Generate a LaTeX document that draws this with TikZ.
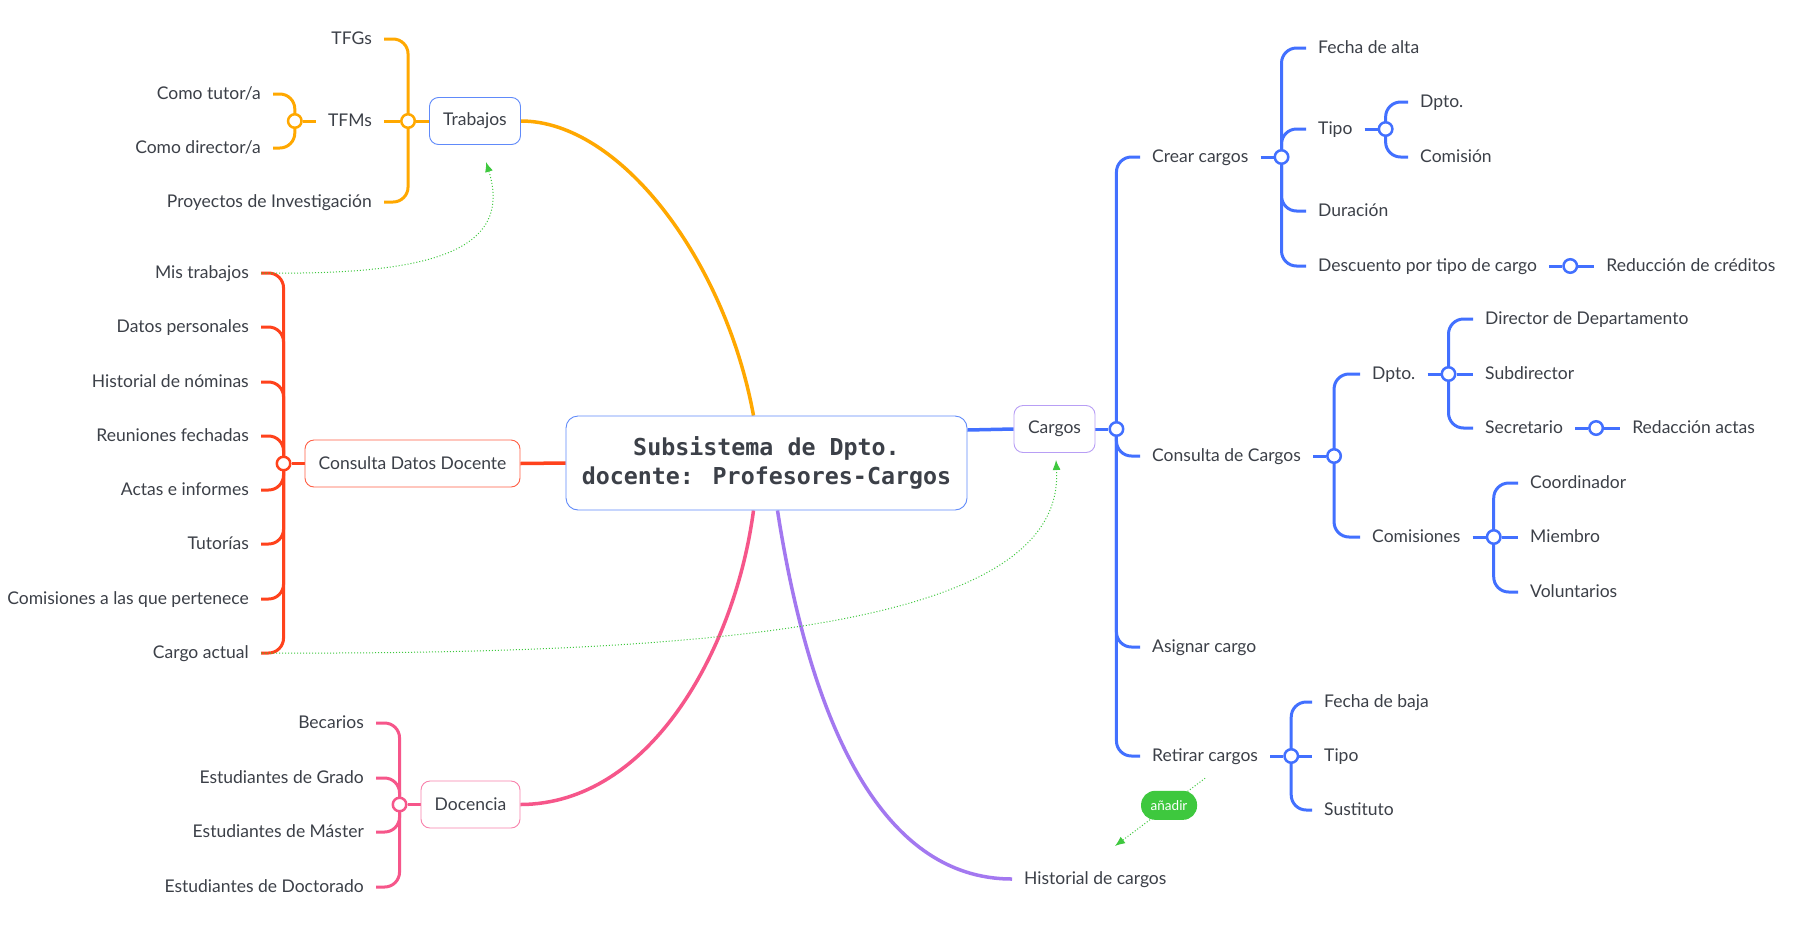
\documentclass[tikz,border=0pt]{standalone}
\usepackage{fontspec}
\setmainfont{Lato}
\newfontfamily\titrefont{DejaVu Sans Mono}
\usetikzlibrary{positioning,arrows.meta,backgrounds}

\definecolor{orangebr}{RGB}{255,168,0}
\definecolor{rougebr}{RGB}{255,66,28}
\definecolor{rosebr}{RGB}{246,86,138}
\definecolor{violetbr}{RGB}{163,120,240}
\definecolor{bleubr}{RGB}{66,112,255}
\definecolor{vertlien}{RGB}{62,200,62}
\definecolor{texte}{RGB}{60,64,72}
\definecolor{bordbleu}{RGB}{96,138,250}
\definecolor{bordrouge}{RGB}{255,96,70}
\definecolor{bordrose}{RGB}{248,130,172}
\definecolor{bordviolet}{RGB}{184,158,245}

\begin{document}
\begin{tikzpicture}[x=1pt, y=-1pt,
    every node/.style={text=texte, font=\fontsize{17.5}{20}\selectfont},
    feuille/.style={inner xsep=12pt, inner ysep=2pt, text height=14pt, text depth=4pt},
    boite/.style={draw=#1, line width=0.9pt, rounded corners=9pt, fill=white,
                  minimum height=47pt, inner xsep=13pt},
    moyeu/.style={circle, draw=#1, line width=2.5pt, fill=white,
                  minimum size=13.5pt, inner sep=0pt},
    branche/.style={draw=#1, line width=3pt, rounded corners=15pt},
    tronc/.style={draw=#1, line width=3.5pt},
    lien/.style={draw=vertlien, line width=1pt, dotted, -{Latex[length=10pt,width=8pt]}},
    etiquette/.style={fill=vertlien, text=white, rounded corners=14pt, minimum width=56pt,
                      minimum height=29pt, inner sep=2pt, font=\fontsize{13.5}{15}\selectfont}]
    % Dimensions de l'espace
    \pgfmathsetmacro{\largeur}{1793}
    \pgfmathsetmacro{\hauteur}{924}
    \pgfmathsetmacro{\ecart}{13}
    \useasboundingbox (0,0) rectangle (\largeur,\hauteur);

    % Noeud central
    \node[draw=bordbleu, line width=0.9pt, rounded corners=12pt, fill=white,
          minimum width=401pt, minimum height=94pt, align=center,
          font=\titrefont\bfseries\fontsize{23.3}{29}\selectfont] (central) at (766.5,463)
        {Subsistema de Dpto.\\docente: Profesores-Cargos};

    % Branche Trabajos
    \node[boite=bordbleu, minimum width=91pt] (trabajos) at (475,121) {Trabajos};
    \node[moyeu=orangebr, left=\ecart pt of trabajos] (mtrab) {};
    \foreach \y/\nom/\txt in {39/tfg/TFGs, 121/tfm/TFMs, 202/proy/Proyectos de Investigación}
        \node[feuille, anchor=east] (\nom) at (384,\y) {\txt};
    \node[moyeu=orangebr, left=\ecart pt of tfm] (mtfm) {};
    \node[feuille, anchor=east] (tutor) at (273,94) {Como tutor/a};
    \node[feuille, anchor=east] (director) at (273,148) {Como director/a};

    % Branche Consulta Datos Docente
    \node[boite=bordrouge, minimum width=215pt] (consulta) at (412.5,463.5) {Consulta Datos Docente};
    \node[moyeu=rougebr, left=\ecart pt of consulta] (mcons) {};
    \foreach \y/\nom/\txt in {273/mis/Mis trabajos, 327/datos/Datos personales,
            382/nomin/Historial de nóminas, 436/reun/Reuniones fechadas,
            490/actas/Actas e informes, 544/tut/Tutorías,
            599/comis/Comisiones a las que pertenece, 653/cargoact/Cargo actual}
        \node[feuille, anchor=east] (\nom) at (261,\y) {\txt};

    % Branche Docencia
    \node[boite=bordrose, minimum width=99pt] (docencia) at (470.5,804.5) {Docencia};
    \node[moyeu=rosebr, left=\ecart pt of docencia] (mdoc) {};
    \foreach \y/\nom/\txt in {723/bec/Becarios, 778/grado/Estudiantes de Grado,
            832/master/Estudiantes de Máster, 887/doct/Estudiantes de Doctorado}
        \node[feuille, anchor=east] (\nom) at (376,\y) {\txt};

    % Historial
    \node[feuille, anchor=west] (historial) at (1012,879) {Historial de cargos};

    % Branche Cargos
    \node[boite=bordviolet, minimum width=81pt] (cargos) at (1054.5,429) {Cargos};
    \node[moyeu=bleubr, right=\ecart pt of cargos] (mcargos) {};
    \foreach \y/\nom/\txt in {157/crear/Crear cargos, 456/consc/Consulta de Cargos,
            647/asignar/Asignar cargo, 756/retirar/Retirar cargos}
        \node[feuille, anchor=west] (\nom) at (1140,\y) {\txt};

    % Crear cargos
    \node[moyeu=bleubr, right=\ecart pt of crear] (mcrear) {};
    \foreach \y/\nom/\txt in {48/alta/Fecha de alta, 129/tipo/Tipo, 211/dur/Duración,
            266/desc/Descuento por tipo de cargo}
        \node[feuille, anchor=west] (\nom) at (1306,\y) {\txt};
    \node[moyeu=bleubr, right=\ecart pt of tipo] (mtipo) {};
    \node[feuille, anchor=west] (tdpto) at (1408,102) {Dpto.};
    \node[feuille, anchor=west] (tcomision) at (1408,157) {Comisión};
    \node[moyeu=bleubr, right=\ecart pt of desc] (mdesc) {};
    \node[feuille, right=16pt of mdesc] (reduc) {Reducción de créditos};

    % Consulta de Cargos
    \node[moyeu=bleubr, right=\ecart pt of consc] (mconsc) {};
    \node[feuille, anchor=west] (dpto) at (1360,374) {Dpto.};
    \node[feuille, anchor=west] (comisiones) at (1360,537) {Comisiones};
    \node[moyeu=bleubr, right=\ecart pt of dpto] (mdpto) {};
    \foreach \y/\nom/\txt in {319/dir/Director de Departamento, 374/subdir/Subdirector,
            428/secr/Secretario}
        \node[feuille, anchor=west] (\nom) at (1473,\y) {\txt};
    \node[moyeu=bleubr, right=\ecart pt of secr] (msecr) {};
    \node[feuille, right=16pt of msecr] (redac) {Redacción actas};
    \node[moyeu=bleubr, right=\ecart pt of comisiones] (mcomis) {};
    \foreach \y/\nom/\txt in {483/coord/Coordinador, 537/miembro/Miembro, 592/volunt/Voluntarios}
        \node[feuille, anchor=west] (\nom) at (1518,\y) {\txt};

    % Retirar cargos
    \node[moyeu=bleubr, right=\ecart pt of retirar] (mretirar) {};
    \foreach \y/\nom/\txt in {702/baja/Fecha de baja, 756/tipob/Tipo, 810/sust/Sustituto}
        \node[feuille, anchor=west] (\nom) at (1312,\y) {\txt};

    % Dessiner les liens sous les noeuds
    \begin{scope}[on background layer]
        \fill[white] (0,0) rectangle (\largeur,\hauteur);
        \draw[tronc=orangebr] (trabajos.east) .. controls (620,121) and (725,260) .. ([xshift=-13pt]central.north);
        \draw[tronc=rougebr] (consulta.east) -- (central.west);
        \draw[tronc=rosebr] (docencia.east) .. controls (650,804) and (735,650) .. ([xshift=-13pt]central.south);
        \draw[tronc=violetbr] ([xshift=11pt]central.south) .. controls (810,720) and (880,879) .. (historial.west);
        \draw[tronc=bleubr] ([yshift=33pt]central.east) -- (cargos.west);

        % Ramifications gauche
        \draw[branche=orangebr] (trabajos.west) -- (mtrab);
        \draw[branche=orangebr] (mtrab) -- (tfm.east);
        \foreach \nom in {tfg,proy}
            \draw[branche=orangebr] (mtrab.center) |- (\nom.east);
        \draw[branche=orangebr] (tfm.west) -- (mtfm);
        \foreach \nom in {tutor,director}
            \draw[branche=orangebr] (mtfm.center) |- (\nom.east);
        \draw[branche=rougebr] (consulta.west) -- (mcons);
        \foreach \nom in {mis,datos,nomin,reun,actas,tut,comis,cargoact}
            \draw[branche=rougebr] (mcons.center) |- (\nom.east);
        \draw[branche=rosebr] (docencia.west) -- (mdoc);
        \foreach \nom in {bec,grado,master,doct}
            \draw[branche=rosebr] (mdoc.center) |- (\nom.east);

        % Ramifications droite
        \draw[branche=bleubr] (cargos.east) -- (mcargos);
        \foreach \nom in {crear,consc,asignar,retirar}
            \draw[branche=bleubr] (mcargos.center) |- (\nom.west);
        \draw[branche=bleubr] (crear.east) -- (mcrear);
        \foreach \nom in {alta,tipo,dur,desc}
            \draw[branche=bleubr] (mcrear.center) |- (\nom.west);
        \draw[branche=bleubr] (tipo.east) -- (mtipo);
        \foreach \nom in {tdpto,tcomision}
            \draw[branche=bleubr] (mtipo.center) |- (\nom.west);
        \draw[branche=bleubr] (desc.east) -- (mdesc) -- (reduc.west);
        \draw[branche=bleubr] (consc.east) -- (mconsc);
        \foreach \nom in {dpto,comisiones}
            \draw[branche=bleubr] (mconsc.center) |- (\nom.west);
        \draw[branche=bleubr] (dpto.east) -- (mdpto) -- (subdir.west);
        \foreach \nom in {dir,secr}
            \draw[branche=bleubr] (mdpto.center) |- (\nom.west);
        \draw[branche=bleubr] (secr.east) -- (msecr) -- (redac.west);
        \draw[branche=bleubr] (comisiones.east) -- (mcomis) -- (miembro.west);
        \foreach \nom in {coord,volunt}
            \draw[branche=bleubr] (mcomis.center) |- (\nom.west);
        \draw[branche=bleubr] (retirar.east) -- (mretirar) -- (tipob.west);
        \foreach \nom in {baja,sust}
            \draw[branche=bleubr] (mretirar.center) |- (\nom.west);
    \end{scope}

    % Relations en pointille
    \coordinate (finretrait) at (1115,846);
    \draw[lien] (mis.east) .. controls (420,275) and (515,255) .. ([xshift=11pt,yshift=-17pt]trabajos.south);
    \draw[lien] (cargoact.east) .. controls (750,655) and (1065,620) .. ([xshift=1.5pt,yshift=-7pt]cargos.south);
    \draw[lien] ([yshift=-11pt]retirar.south) -- node[etiquette, pos=0.4] (anadir) {añadir} (finretrait);
\end{tikzpicture}
\end{document}
